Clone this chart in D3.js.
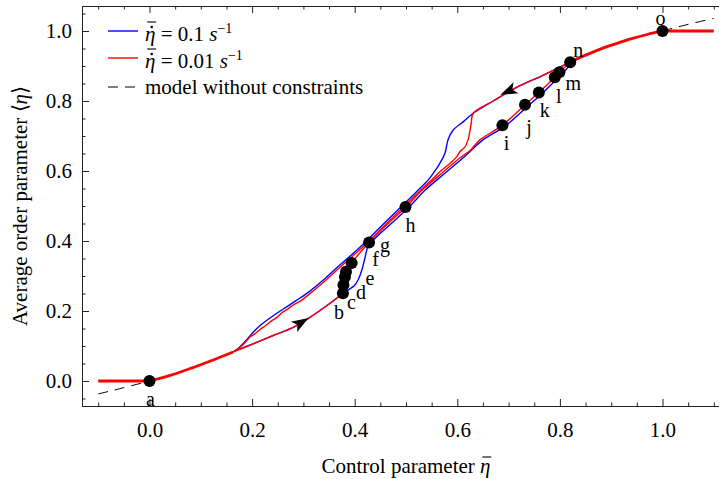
<!DOCTYPE html>
<html>
<head>
<meta charset="utf-8">
<script src="https://cdn.jsdelivr.net/npm/d3@7"></script>
<style>
  body { margin: 0; background: #fff; }
  svg text { font-family: "Liberation Serif", "Times New Roman", serif; fill: #000; }
</style>
</head>
<body>
<div id="container"></div>
<script>
// ---- data (control parameter, average order parameter) ----

// flat parts, clamped to 0 and 1
const flatLow = [[-0.1, 0], [0, 0]];
const flatHigh = [[1.0, 1.0], [1.1, 1.0]];

// common start of loading (both rates)
const loadStart = [[0, 0], [0.04, 0.016], [0.08, 0.036], [0.12, 0.058], [0.163, 0.083]];
// common end near the top (both rates)
const loadEnd = [[0.820, 0.911], [0.85, 0.931], [0.88, 0.949], [0.91, 0.964], [0.94, 0.978], [0.97, 0.990], [1.0, 1.0]];

// lower loading branch up to point b
const loadLower = [[0.163, 0.083], [0.203, 0.107], [0.241, 0.130], [0.282, 0.155], [0.316, 0.185],
  [0.350, 0.220], [0.368, 0.240], [0.377, 0.251]];

// loading, 0.01 s^-1 (red) from b to n
const redLoadRest = [[0.378, 0.274], [0.381, 0.297], [0.383, 0.312], [0.394, 0.337], [0.428, 0.396],
  [0.463, 0.447], [0.500, 0.497], [0.531, 0.545], [0.562, 0.584], [0.605, 0.637], [0.626, 0.660],
  [0.633, 0.672], [0.644, 0.689], [0.688, 0.731], [0.732, 0.789], [0.759, 0.824], [0.790, 0.868],
  [0.799, 0.882], [0.820, 0.911]];

// loading, 0.1 s^-1 (blue) from b to n
const blueLoadRest = [[0.389, 0.262], [0.399, 0.272], [0.407, 0.290], [0.414, 0.317], [0.420, 0.352],
  [0.426, 0.385], [0.434, 0.399], [0.469, 0.447], [0.506, 0.497], [0.537, 0.545], [0.568, 0.584],
  [0.611, 0.637], [0.650, 0.689], [0.694, 0.729], [0.738, 0.786], [0.765, 0.821], [0.795, 0.864],
  [0.805, 0.878], [0.822, 0.908]];

// unloading from n down to the kink (both rates)
const unloadTop = [[0.820, 0.911], [0.768, 0.874], [0.712, 0.836], [0.670, 0.800], [0.631, 0.765]];

// unloading, 0.1 s^-1 (blue)
const blueUnloadRest = [[0.612, 0.741], [0.592, 0.717], [0.582, 0.689], [0.576, 0.651], [0.566, 0.622],
  [0.553, 0.593], [0.543, 0.574], [0.520, 0.540], [0.490, 0.497], [0.455, 0.447], [0.420, 0.396],
  [0.398, 0.366], [0.370, 0.330], [0.340, 0.290], [0.310, 0.254], [0.285, 0.229], [0.260, 0.205],
  [0.235, 0.180], [0.215, 0.158], [0.200, 0.136], [0.186, 0.112], [0.175, 0.096], [0.163, 0.083]];

// unloading, 0.01 s^-1 (red)
const redUnloadRest = [[0.627, 0.735], [0.621, 0.689], [0.615, 0.669], [0.605, 0.655], [0.599, 0.641],
  [0.586, 0.622], [0.566, 0.598], [0.553, 0.579], [0.525, 0.540], [0.495, 0.497], [0.460, 0.447],
  [0.425, 0.396], [0.400, 0.362], [0.372, 0.326], [0.342, 0.286], [0.312, 0.249], [0.295, 0.229],
  [0.280, 0.217], [0.268, 0.204], [0.258, 0.195], [0.248, 0.181], [0.238, 0.172], [0.226, 0.158],
  [0.216, 0.148], [0.205, 0.134], [0.196, 0.126], [0.188, 0.113], [0.180, 0.101], [0.170, 0.090],
  [0.163, 0.083]];

// model without constraints (only visible outside [0,1])
const modelCurve = [[-0.1, -0.037], [-0.05, -0.019], [0, 0], null, [1.0, 1.0], [1.05, 1.019], [1.1, 1.036]];

// marked states
const pointNames = ['a', 'b', 'c', 'd', 'e', 'f', 'g', 'h', 'i', 'j', 'k', 'l', 'm', 'n', 'o'];
const pointX = [0, 0.377, 0.378, 0.381, 0.383, 0.394, 0.428, 0.499, 0.688, 0.732, 0.759, 0.790, 0.799, 0.820, 1.0];
const pointY = [0, 0.251, 0.274, 0.297, 0.312, 0.337, 0.396, 0.497, 0.731, 0.789, 0.824, 0.868, 0.882, 0.911, 1.0];

// direction arrows: [from, to] along the path
const arrowSegments = [[[0.282, 0.155], [0.310, 0.180]], [[0.712, 0.836], [0.684, 0.818]]];

const xMajor = [0, 0.2, 0.4, 0.6, 0.8, 1.0];
const xMinor = [-0.1, -0.05, 0.05, 0.1, 0.15, 0.25, 0.3, 0.35, 0.45, 0.5, 0.55, 0.65, 0.7, 0.75, 0.85, 0.9, 0.95, 1.05, 1.1];
const yMajor = [0, 0.2, 0.4, 0.6, 0.8, 1.0];
const yMinor = [-0.05, 0.05, 0.1, 0.15, 0.25, 0.3, 0.35, 0.45, 0.5, 0.55, 0.65, 0.7, 0.75, 0.85, 0.9, 0.95, 1.05];

// ---- layout ----
const width = 719, height = 479;
const fontSize = 21;
const labelSize = 20;
const blue = '#0000ff', red = '#ff0000';

// label placement relative to each dot (pixels)
const labelOffset = {
  a: [1, 18], b: [-4, 19], c: [8, 17], d: [16, 15], e: [24, 6], f: [24, -4], g: [16, 3],
  h: [5, 18], i: [4, 18], j: [4, 22], k: [6, 17], l: [4, 19], m: [14, 11], n: [8, -12], o: [-2, -13]
};

const svg = d3.select('#container').append('svg')
  .attr('width', width)
  .attr('height', height);

const x = d3.scaleLinear().domain([-0.1316, 1.1316]).range([82, 730]);
const y = d3.scaleLinear().domain([-0.0714, 1.0714]).range([406, 6]);

const fmt = d3.format('.1f');

function styleAxis(g) {
  g.selectAll('path, line').attr('stroke', '#222').attr('stroke-width', 1);
  g.selectAll('text').attr('font-size', fontSize).attr('font-family', null);
}

// bottom axis
svg.append('g').attr('transform', `translate(0,${y.range()[0]})`)
  .call(d3.axisBottom(x).tickValues(xMinor).tickFormat('').tickSizeInner(-3.5).tickSizeOuter(0))
  .call(styleAxis);
svg.append('g').attr('transform', `translate(0,${y.range()[0]})`)
  .call(d3.axisBottom(x).tickValues(xMajor).tickFormat(fmt).tickSizeInner(-7).tickSizeOuter(0).tickPadding(16))
  .call(styleAxis);

// top axis
svg.append('g').attr('transform', `translate(0,${y.range()[1]})`)
  .call(d3.axisTop(x).tickValues(xMinor).tickFormat('').tickSizeInner(-3.5).tickSizeOuter(0))
  .call(styleAxis);
svg.append('g').attr('transform', `translate(0,${y.range()[1]})`)
  .call(d3.axisTop(x).tickValues(xMajor).tickFormat('').tickSizeInner(-7).tickSizeOuter(0))
  .call(styleAxis);

// left axis
svg.append('g').attr('transform', `translate(${x.range()[0]},0)`)
  .call(d3.axisLeft(y).tickValues(yMinor).tickFormat('').tickSizeInner(-3.5).tickSizeOuter(0))
  .call(styleAxis);
svg.append('g').attr('transform', `translate(${x.range()[0]},0)`)
  .call(d3.axisLeft(y).tickValues(yMajor).tickFormat(fmt).tickSizeInner(-7).tickSizeOuter(0).tickPadding(10))
  .call(styleAxis);

// draw a bar (and optionally a dot) over one character of a text element
function accentOver(textSel, index, barRise, dotRise) {
  const node = textSel.node();
  const ext = node.getExtentOfChar(index);
  const base = +textSel.attr('y') || 0;
  const parent = d3.select(node.parentNode);
  const tr = textSel.attr('transform');
  const g = parent.append('g');
  if (tr) g.attr('transform', tr);
  const cx = ext.x + ext.width / 2 + 1.5;
  g.append('line')
    .attr('x1', cx - 4.5).attr('x2', cx + 4.5)
    .attr('y1', base - barRise).attr('y2', base - barRise)
    .attr('stroke', '#000').attr('stroke-width', 1.1);
  if (dotRise) {
    g.append('circle')
      .attr('cx', cx).attr('cy', base - dotRise)
      .attr('r', 1.3).attr('fill', '#000');
  }
}

// axis titles
const xTitle = svg.append('text')
  .attr('x', 406).attr('y', 473)
  .attr('text-anchor', 'middle')
  .attr('font-size', fontSize);
xTitle.append('tspan').text('Control parameter ');
xTitle.append('tspan').attr('font-style', 'italic').text('\u03B7');
accentOver(xTitle, 18, 16, 0);

const yTitle = svg.append('text')
  .attr('transform', 'translate(27,206) rotate(-90)')
  .attr('text-anchor', 'middle')
  .attr('font-size', fontSize);
yTitle.append('tspan').text('Average order parameter \u27E8');
yTitle.append('tspan').attr('font-style', 'italic').text('\u03B7');
yTitle.append('tspan').text('\u27E9');

// curves
const line = d3.line()
  .defined(d => d !== null)
  .x(d => x(d[0]))
  .y(d => y(d[1]))
  .curve(d3.curveCatmullRom.alpha(0.5));

const straight = d3.line().x(d => x(d[0])).y(d => y(d[1]));

svg.append('path')
  .attr('d', line(modelCurve))
  .attr('fill', 'none')
  .attr('stroke', '#000')
  .attr('stroke-width', 1)
  .attr('stroke-dasharray', '10,7');

const series = [
  { data: loadLower.concat(blueLoadRest), color: blue },
  { data: unloadTop.concat(blueUnloadRest), color: blue },
  { data: loadLower.concat(redLoadRest), color: red },
  { data: unloadTop.concat(redUnloadRest), color: red }
];

series.forEach(s => {
  svg.append('path')
    .attr('d', line(s.data))
    .attr('fill', 'none')
    .attr('stroke', s.color)
    .attr('stroke-width', 1.4)
    .attr('stroke-linejoin', 'round');
});

// thick common parts
[loadStart, loadEnd].forEach(d => {
  svg.append('path')
    .attr('d', line(d))
    .attr('fill', 'none')
    .attr('stroke', red)
    .attr('stroke-width', 2.8);
});
[flatLow, flatHigh].forEach(d => {
  svg.append('path')
    .attr('d', straight(d))
    .attr('fill', 'none')
    .attr('stroke', red)
    .attr('stroke-width', 2.8);
});

// arrows
arrowSegments.forEach(seg => {
  const x0 = x(seg[0][0]), y0 = y(seg[0][1]);
  const x1 = x(seg[1][0]), y1 = y(seg[1][1]);
  const ang = Math.atan2(y1 - y0, x1 - x0) * 180 / Math.PI;
  svg.append('path')
    .attr('d', 'M0,0 L-17,-6 L-13,0 L-17,6 Z')
    .attr('fill', '#000')
    .attr('transform', `translate(${x1},${y1}) rotate(${ang})`);
});

// points and labels
const pts = pointNames.map((n, i) => ({ name: n, px: pointX[i], py: pointY[i] }));

svg.selectAll('circle.pt')
  .data(pts)
  .enter()
  .append('circle')
  .attr('class', 'pt')
  .attr('cx', d => x(d.px))
  .attr('cy', d => y(d.py))
  .attr('r', 6)
  .attr('fill', '#000');

svg.selectAll('text.lbl')
  .data(pts)
  .enter()
  .append('text')
  .attr('class', 'lbl')
  .attr('x', d => x(d.px) + labelOffset[d.name][0])
  .attr('y', d => y(d.py) + labelOffset[d.name][1])
  .attr('dy', '0.35em')
  .attr('text-anchor', 'middle')
  .attr('font-size', labelSize)
  .text(d => d.name);

// legend
const legendRows = [
  { color: blue, dash: null, rate: '0.1' },
  { color: red, dash: null, rate: '0.01' },
  { color: '#000', dash: '10,7', text: 'model without constraints' }
];
const legendY = [31, 58, 87];

legendRows.forEach((r, i) => {
  const g = svg.append('g').attr('transform', `translate(0,${legendY[i]})`);
  g.append('line')
    .attr('x1', 108).attr('x2', 138)
    .attr('y1', 0).attr('y2', 0)
    .attr('stroke', r.color)
    .attr('stroke-width', r.dash ? 1 : 1.4)
    .attr('stroke-dasharray', r.dash);
  const t = g.append('text').attr('x', 145).attr('font-size', fontSize);
  if (r.text) {
    t.attr('y', 7).text(r.text);
  } else {
    t.attr('y', 10);
    t.append('tspan').attr('font-style', 'italic').text('\u03B7');
    t.append('tspan').text(' = ' + r.rate + ' ');
    t.append('tspan').attr('font-style', 'italic').text('s');
    t.append('tspan').attr('font-size', 14).attr('dy', -8).text('\u22121');
    accentOver(t, 0, 19, 14);
  }
});
</script>
</body>
</html>
